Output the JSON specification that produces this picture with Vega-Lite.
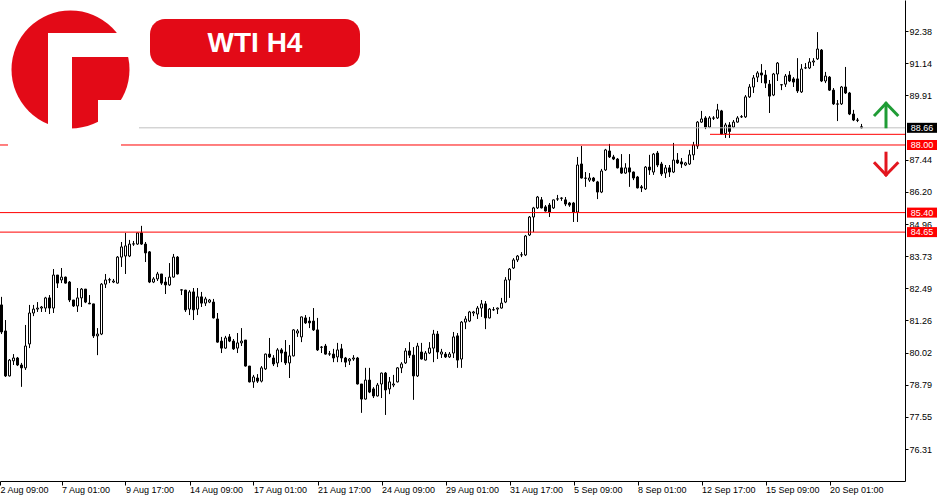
{
"$schema": "https://vega.github.io/schema/vega-lite/v6.json",
"width": 905,
"height": 481,
"autosize": {"type": "none"},
"padding": {"left": 0, "top": 0, "right": 45, "bottom": 19},
"background": "#ffffff",
"config": {"view": {"stroke": null}, "axis": {"grid": false, "labelOverlap": false, "title": null}, "font": "Liberation Sans", "scale": {"continuousPadding": 0}},
"resolve": {"scale": {"color": "independent"}},
"datasets": {
"candles": [
{"i":0,"o":81.85,"h":82.16,"l":80.73,"c":80.81},
{"i":1,"o":80.85,"h":81.27,"l":79.08,"c":79.12},
{"i":2,"o":79.12,"h":79.77,"l":79.10,"c":79.73},
{"i":3,"o":79.70,"h":79.96,"l":79.54,"c":79.81},
{"i":4,"o":79.81,"h":79.85,"l":79.50,"c":79.54},
{"i":5,"o":79.54,"h":79.62,"l":78.70,"c":79.43},
{"i":6,"o":79.43,"h":81.08,"l":79.35,"c":80.27},
{"i":7,"o":80.35,"h":81.85,"l":80.19,"c":81.54},
{"i":8,"o":81.54,"h":81.85,"l":81.42,"c":81.69},
{"i":9,"o":81.69,"h":81.96,"l":81.58,"c":81.73},
{"i":10,"o":81.73,"h":81.81,"l":81.58,"c":81.77},
{"i":11,"o":81.73,"h":82.16,"l":81.58,"c":82.12},
{"i":12,"o":82.12,"h":82.23,"l":81.50,"c":81.73},
{"i":13,"o":81.73,"h":83.23,"l":81.54,"c":83.00},
{"i":14,"o":83.00,"h":83.00,"l":82.50,"c":82.69},
{"i":15,"o":82.81,"h":83.27,"l":82.69,"c":82.92},
{"i":16,"o":82.92,"h":82.94,"l":82.67,"c":82.69},
{"i":17,"o":82.73,"h":82.77,"l":81.96,"c":82.04},
{"i":18,"o":82.04,"h":82.04,"l":81.77,"c":81.81},
{"i":19,"o":81.81,"h":82.50,"l":81.58,"c":82.12},
{"i":20,"o":82.12,"h":82.50,"l":81.77,"c":82.46},
{"i":21,"o":82.46,"h":82.46,"l":81.92,"c":81.96},
{"i":22,"o":81.92,"h":82.23,"l":81.89,"c":81.89},
{"i":23,"o":81.89,"h":81.89,"l":80.58,"c":80.66},
{"i":24,"o":80.66,"h":80.96,"l":79.92,"c":80.73},
{"i":25,"o":80.73,"h":82.69,"l":80.69,"c":82.65},
{"i":26,"o":82.65,"h":83.04,"l":82.50,"c":82.81},
{"i":27,"o":82.81,"h":82.89,"l":82.69,"c":82.82},
{"i":28,"o":82.73,"h":82.85,"l":82.69,"c":82.77},
{"i":29,"o":82.69,"h":83.73,"l":82.67,"c":83.69},
{"i":30,"o":83.69,"h":84.27,"l":83.31,"c":84.08},
{"i":31,"o":83.73,"h":84.62,"l":83.04,"c":84.12},
{"i":32,"o":83.73,"h":84.35,"l":83.69,"c":84.19},
{"i":33,"o":84.19,"h":84.31,"l":84.12,"c":84.20},
{"i":34,"o":84.19,"h":84.62,"l":84.16,"c":84.62},
{"i":35,"o":84.62,"h":84.89,"l":84.16,"c":84.19},
{"i":36,"o":84.19,"h":84.27,"l":83.50,"c":83.85},
{"i":37,"o":83.89,"h":83.92,"l":82.69,"c":82.73},
{"i":38,"o":82.73,"h":82.92,"l":82.69,"c":82.85},
{"i":39,"o":82.85,"h":83.12,"l":82.77,"c":83.04},
{"i":40,"o":83.04,"h":83.04,"l":82.62,"c":82.69},
{"i":41,"o":82.73,"h":82.92,"l":82.27,"c":82.62},
{"i":42,"o":82.62,"h":83.46,"l":82.58,"c":82.92},
{"i":43,"o":82.92,"h":83.81,"l":82.90,"c":83.69},
{"i":44,"o":83.69,"h":83.73,"l":83.02,"c":83.04},
{"i":45,"o":82.43,"h":82.45,"l":82.23,"c":82.42},
{"i":46,"o":82.42,"h":82.43,"l":81.58,"c":81.66},
{"i":47,"o":81.69,"h":82.42,"l":81.46,"c":82.35},
{"i":48,"o":82.35,"h":82.50,"l":81.27,"c":81.66},
{"i":49,"o":81.69,"h":82.50,"l":81.46,"c":82.16},
{"i":50,"o":82.16,"h":82.35,"l":81.77,"c":81.92},
{"i":51,"o":81.92,"h":82.16,"l":81.81,"c":82.08},
{"i":52,"o":81.96,"h":82.08,"l":81.92,"c":82.04},
{"i":53,"o":81.96,"h":82.08,"l":81.33,"c":81.35},
{"i":54,"o":81.31,"h":81.54,"l":80.40,"c":80.42},
{"i":55,"o":80.46,"h":80.62,"l":80.00,"c":80.19},
{"i":56,"o":80.19,"h":80.66,"l":80.16,"c":80.58},
{"i":57,"o":80.62,"h":80.73,"l":80.42,"c":80.46},
{"i":58,"o":80.46,"h":80.54,"l":80.12,"c":80.16},
{"i":59,"o":80.19,"h":80.77,"l":80.00,"c":80.39},
{"i":60,"o":80.39,"h":80.96,"l":80.27,"c":80.46},
{"i":61,"o":80.50,"h":80.50,"l":79.48,"c":79.50},
{"i":62,"o":79.50,"h":79.50,"l":78.87,"c":78.89},
{"i":63,"o":78.89,"h":79.16,"l":78.66,"c":79.08},
{"i":64,"o":79.04,"h":79.19,"l":78.85,"c":78.92},
{"i":65,"o":78.92,"h":79.50,"l":78.87,"c":79.43},
{"i":66,"o":79.39,"h":79.98,"l":79.35,"c":79.96},
{"i":67,"o":79.96,"h":80.58,"l":79.81,"c":79.85},
{"i":68,"o":79.81,"h":79.92,"l":79.50,"c":79.58},
{"i":69,"o":79.62,"h":80.19,"l":79.46,"c":80.12},
{"i":70,"o":80.12,"h":80.19,"l":79.65,"c":80.00},
{"i":71,"o":80.04,"h":80.50,"l":79.54,"c":79.62},
{"i":72,"o":79.62,"h":80.31,"l":79.04,"c":79.89},
{"i":73,"o":79.89,"h":80.92,"l":79.87,"c":80.89},
{"i":74,"o":80.77,"h":80.92,"l":80.62,"c":80.85},
{"i":75,"o":80.62,"h":81.40,"l":80.42,"c":81.39},
{"i":76,"o":81.35,"h":81.46,"l":81.12,"c":81.16},
{"i":77,"o":81.23,"h":81.39,"l":80.96,"c":81.16},
{"i":78,"o":81.23,"h":81.73,"l":80.85,"c":80.89},
{"i":79,"o":80.89,"h":81.35,"l":80.08,"c":80.12},
{"i":80,"o":80.23,"h":80.27,"l":80.00,"c":80.22},
{"i":81,"o":80.27,"h":80.35,"l":79.94,"c":79.96},
{"i":82,"o":79.96,"h":80.08,"l":79.89,"c":79.97},
{"i":83,"o":79.96,"h":80.16,"l":79.65,"c":79.81},
{"i":84,"o":79.85,"h":80.39,"l":79.65,"c":80.12},
{"i":85,"o":80.16,"h":80.35,"l":79.65,"c":79.81},
{"i":86,"o":79.81,"h":79.85,"l":79.46,"c":79.65},
{"i":87,"o":79.70,"h":79.81,"l":79.54,"c":79.77},
{"i":88,"o":79.77,"h":79.92,"l":79.70,"c":79.81},
{"i":89,"o":79.81,"h":79.85,"l":78.79,"c":78.81},
{"i":90,"o":78.81,"h":78.81,"l":77.70,"c":78.23},
{"i":91,"o":78.23,"h":79.43,"l":78.21,"c":78.96},
{"i":92,"o":78.96,"h":79.43,"l":78.46,"c":78.50},
{"i":93,"o":78.62,"h":78.69,"l":78.27,"c":78.35},
{"i":94,"o":78.35,"h":78.85,"l":78.33,"c":78.77},
{"i":95,"o":78.81,"h":79.25,"l":78.27,"c":79.23},
{"i":96,"o":79.23,"h":79.27,"l":77.62,"c":78.58},
{"i":97,"o":78.62,"h":79.08,"l":78.42,"c":78.89},
{"i":98,"o":78.77,"h":79.16,"l":78.69,"c":78.81},
{"i":99,"o":78.89,"h":79.46,"l":78.87,"c":79.43},
{"i":100,"o":79.43,"h":79.65,"l":79.23,"c":79.58},
{"i":101,"o":79.62,"h":80.19,"l":79.58,"c":80.08},
{"i":102,"o":80.08,"h":80.42,"l":79.81,"c":79.92},
{"i":103,"o":79.92,"h":80.23,"l":78.20,"c":79.12},
{"i":104,"o":79.12,"h":80.39,"l":79.08,"c":80.27},
{"i":105,"o":80.04,"h":80.39,"l":79.75,"c":79.77},
{"i":106,"o":79.73,"h":80.08,"l":79.71,"c":80.00},
{"i":107,"o":80.00,"h":80.42,"l":79.96,"c":80.19},
{"i":108,"o":80.19,"h":80.89,"l":79.65,"c":80.73},
{"i":109,"o":80.73,"h":80.85,"l":79.77,"c":80.04},
{"i":110,"o":79.96,"h":80.16,"l":79.81,"c":80.04},
{"i":111,"o":79.96,"h":80.04,"l":79.81,"c":79.85},
{"i":112,"o":79.85,"h":80.04,"l":79.81,"c":79.96},
{"i":113,"o":80.00,"h":80.81,"l":79.81,"c":80.62},
{"i":114,"o":80.66,"h":80.77,"l":79.43,"c":79.73},
{"i":115,"o":79.77,"h":81.23,"l":79.43,"c":81.19},
{"i":116,"o":81.19,"h":81.42,"l":80.92,"c":81.31},
{"i":117,"o":81.23,"h":81.62,"l":81.19,"c":81.58},
{"i":118,"o":81.54,"h":81.62,"l":81.42,"c":81.58},
{"i":119,"o":81.50,"h":81.81,"l":81.31,"c":81.73},
{"i":120,"o":81.73,"h":82.04,"l":81.39,"c":81.89},
{"i":121,"o":81.89,"h":82.00,"l":80.92,"c":81.35},
{"i":122,"o":81.35,"h":81.73,"l":81.33,"c":81.69},
{"i":123,"o":81.66,"h":81.77,"l":81.62,"c":81.67},
{"i":124,"o":81.69,"h":81.75,"l":81.50,"c":81.73},
{"i":125,"o":81.73,"h":82.12,"l":81.71,"c":81.92},
{"i":126,"o":81.96,"h":82.92,"l":81.92,"c":82.81},
{"i":127,"o":82.81,"h":83.27,"l":82.12,"c":83.23},
{"i":128,"o":83.27,"h":83.65,"l":83.23,"c":83.58},
{"i":129,"o":83.58,"h":83.77,"l":83.50,"c":83.73},
{"i":130,"o":83.77,"h":83.88,"l":83.69,"c":83.78},
{"i":131,"o":83.77,"h":84.54,"l":83.73,"c":84.50},
{"i":132,"o":84.54,"h":85.27,"l":84.50,"c":85.23},
{"i":133,"o":85.23,"h":85.62,"l":84.65,"c":85.58},
{"i":134,"o":85.58,"h":86.04,"l":85.54,"c":86.00},
{"i":135,"o":85.89,"h":86.00,"l":85.56,"c":85.58},
{"i":136,"o":85.62,"h":85.69,"l":85.44,"c":85.46},
{"i":137,"o":85.69,"h":85.77,"l":85.23,"c":85.42},
{"i":138,"o":85.58,"h":85.90,"l":85.54,"c":85.89},
{"i":139,"o":85.92,"h":86.08,"l":85.85,"c":85.93},
{"i":140,"o":85.96,"h":85.99,"l":85.85,"c":85.95},
{"i":141,"o":85.89,"h":86.00,"l":85.65,"c":85.73},
{"i":142,"o":85.77,"h":85.81,"l":85.62,"c":85.69},
{"i":143,"o":85.77,"h":85.81,"l":85.04,"c":85.42},
{"i":144,"o":85.42,"h":87.54,"l":85.04,"c":87.23},
{"i":145,"o":87.27,"h":87.96,"l":86.71,"c":86.73},
{"i":146,"o":86.73,"h":86.96,"l":86.39,"c":86.72},
{"i":147,"o":86.65,"h":86.92,"l":86.58,"c":86.73},
{"i":148,"o":86.73,"h":86.77,"l":86.58,"c":86.62},
{"i":149,"o":86.58,"h":86.62,"l":85.92,"c":86.19},
{"i":150,"o":86.19,"h":87.08,"l":86.15,"c":87.00},
{"i":151,"o":87.04,"h":87.85,"l":87.00,"c":87.81},
{"i":152,"o":87.77,"h":88.04,"l":87.50,"c":87.54},
{"i":153,"o":87.54,"h":87.62,"l":87.42,"c":87.46},
{"i":154,"o":87.46,"h":87.50,"l":87.10,"c":87.12},
{"i":155,"o":87.12,"h":87.65,"l":86.89,"c":86.92},
{"i":156,"o":86.92,"h":87.30,"l":86.89,"c":87.12},
{"i":157,"o":87.12,"h":87.65,"l":86.39,"c":86.96},
{"i":158,"o":86.96,"h":86.98,"l":86.65,"c":86.73},
{"i":159,"o":86.77,"h":86.81,"l":86.33,"c":86.35},
{"i":160,"o":86.39,"h":86.46,"l":86.19,"c":86.35},
{"i":161,"o":86.31,"h":87.19,"l":86.27,"c":87.15},
{"i":162,"o":87.15,"h":87.62,"l":86.85,"c":87.04},
{"i":163,"o":86.96,"h":87.69,"l":86.85,"c":87.65},
{"i":164,"o":87.69,"h":87.77,"l":87.15,"c":87.23},
{"i":165,"o":87.27,"h":87.35,"l":86.81,"c":86.89},
{"i":166,"o":86.92,"h":87.23,"l":86.73,"c":87.12},
{"i":167,"o":87.12,"h":87.23,"l":86.77,"c":86.96},
{"i":168,"o":86.96,"h":88.08,"l":86.92,"c":87.42},
{"i":169,"o":87.42,"h":87.69,"l":87.27,"c":87.31},
{"i":170,"o":87.35,"h":87.50,"l":87.12,"c":87.27},
{"i":171,"o":87.23,"h":87.35,"l":87.19,"c":87.31},
{"i":172,"o":87.27,"h":87.81,"l":87.23,"c":87.62},
{"i":173,"o":87.62,"h":88.12,"l":87.42,"c":88.00},
{"i":174,"o":87.96,"h":88.92,"l":87.85,"c":88.88},
{"i":175,"o":88.88,"h":89.31,"l":88.85,"c":89.00},
{"i":176,"o":89.04,"h":89.11,"l":88.61,"c":88.69},
{"i":177,"o":88.69,"h":89.11,"l":88.65,"c":89.04},
{"i":178,"o":89.04,"h":89.11,"l":88.96,"c":89.03},
{"i":179,"o":89.04,"h":89.58,"l":89.00,"c":89.35},
{"i":180,"o":89.31,"h":89.35,"l":88.40,"c":88.42},
{"i":181,"o":88.44,"h":88.85,"l":88.27,"c":88.77},
{"i":182,"o":88.77,"h":88.88,"l":88.27,"c":88.52},
{"i":183,"o":88.69,"h":88.96,"l":88.65,"c":88.88},
{"i":184,"o":88.88,"h":89.11,"l":88.86,"c":89.04},
{"i":185,"o":89.08,"h":89.15,"l":89.04,"c":89.09},
{"i":186,"o":89.08,"h":89.92,"l":89.04,"c":89.85},
{"i":187,"o":89.85,"h":90.34,"l":89.81,"c":90.23},
{"i":188,"o":90.23,"h":90.69,"l":90.00,"c":90.58},
{"i":189,"o":90.61,"h":90.84,"l":90.42,"c":90.77},
{"i":190,"o":90.77,"h":91.11,"l":90.38,"c":90.69},
{"i":191,"o":90.69,"h":90.88,"l":90.19,"c":90.38},
{"i":192,"o":90.34,"h":90.50,"l":89.23,"c":89.88},
{"i":193,"o":89.92,"h":90.77,"l":89.88,"c":90.73},
{"i":194,"o":90.73,"h":91.19,"l":90.46,"c":91.15},
{"i":195,"o":90.31,"h":90.34,"l":90.11,"c":90.32},
{"i":196,"o":90.34,"h":90.73,"l":90.23,"c":90.65},
{"i":197,"o":90.69,"h":90.84,"l":90.42,"c":90.46},
{"i":198,"o":90.54,"h":90.61,"l":90.23,"c":90.42},
{"i":199,"o":90.54,"h":91.34,"l":90.00,"c":90.08},
{"i":200,"o":90.04,"h":91.11,"l":90.00,"c":90.92},
{"i":201,"o":90.96,"h":91.15,"l":90.92,"c":90.97},
{"i":202,"o":90.96,"h":91.34,"l":90.92,"c":91.19},
{"i":203,"o":91.19,"h":91.34,"l":91.04,"c":91.23},
{"i":204,"o":91.31,"h":92.34,"l":91.27,"c":91.69},
{"i":205,"o":91.65,"h":91.69,"l":90.42,"c":90.46},
{"i":206,"o":90.46,"h":90.81,"l":90.38,"c":90.65},
{"i":207,"o":90.61,"h":90.65,"l":90.08,"c":90.11},
{"i":208,"o":90.11,"h":90.19,"l":89.54,"c":89.58},
{"i":209,"o":89.58,"h":89.73,"l":88.92,"c":89.57},
{"i":210,"o":89.58,"h":90.27,"l":89.54,"c":90.23},
{"i":211,"o":90.23,"h":91.00,"l":89.96,"c":90.00},
{"i":212,"o":90.00,"h":90.04,"l":89.15,"c":89.19},
{"i":213,"o":89.19,"h":89.35,"l":88.92,"c":88.96},
{"i":214,"o":88.96,"h":89.04,"l":88.88,"c":88.95},
{"i":215,"o":88.70,"h":88.81,"l":88.64,"c":88.66}
],
"levels": [
{"kind":"bid","p":88.66,"from":34.375,"to":225.875},
{"kind":"level","p":88.00,"from":-0.375,"to":1.625},
{"kind":"level","p":88.00,"from":29.875,"to":225.875},
{"kind":"level","p":88.41,"from":177.125,"to":225.875},
{"kind":"level","p":85.40,"from":-0.375,"to":225.875},
{"kind":"level","p":84.65,"from":-0.375,"to":225.875}
],
"tags": [
{"kind":"bid","p":88.66},
{"kind":"level","p":88.00},
{"kind":"level","p":85.40},
{"kind":"level","p":84.65}
]
},
"layer": [
{
"data": {"name": "candles"},
"mark": {"type":"rule","color":"#000000","strokeWidth":1},
"encoding": {
"x": {"field":"i","type":"quantitative","scale":{"domain":[-0.375,225.875],"nice":false,"zero":false,"padding":0},
"axis": {"values":[-0.375,15,31,47,63,79,95,111,127,143,159,175,191,207],
"labelExpr":"['2 Aug 09:00','7 Aug 01:00','9 Aug 17:00','14 Aug 09:00','17 Aug 01:00','21 Aug 17:00','24 Aug 09:00','29 Aug 01:00','31 Aug 17:00','5 Sep 09:00','8 Sep 01:00','12 Sep 17:00','15 Sep 09:00','20 Sep 01:00'][round((datum.value+1)/16)]",
"orient":"bottom","grid":false,"domain":true,"domainColor":"#000000","domainWidth":1,"ticks":true,"tickColor":"#000000","tickSize":4,"tickWidth":1,
"labelAlign":"left","labelDx":1,"labelBaseline":"top","labelPadding":0,"labelFont":"Liberation Sans","labelFontSize":9,"labelColor":"#000000","labelOverlap":false,"labelFlush":false,"labelBound":false,"title":null}},
"y": {"field":"l","type":"quantitative","scale":{"domain":[75.08,93.575],"nice":false,"zero":false,"padding":0},
"axis": {"values":[76.31,77.55,78.79,80.02,81.26,82.49,83.73,84.96,86.20,87.44,89.91,91.14,92.38],
"format":".2f","orient":"right","grid":false,"domain":true,"domainColor":"#000000","domainWidth":1,"ticks":true,"tickColor":"#000000","tickSize":3,"tickWidth":1,
"labelAlign":"left","labelBaseline":"middle","labelPadding":1,"labelFont":"Liberation Sans","labelFontSize":9,"labelColor":"#000000","labelOverlap":false,"labelFlush":false,"labelBound":false,"title":null}},
"y2": {"field":"h"}
}
},
{
"data": {"name": "candles"},
"mark": {"type":"bar","orient":"vertical","size":2,"stroke":"#000000","strokeWidth":1},
"encoding": {
"x": {"field":"i","type":"quantitative"},
"y": {"field":"o","type":"quantitative"},
"y2": {"field":"c"},
"fill": {"condition": {"test":"datum.c < datum.o","value":"#000000"}, "value":"#ffffff"}
}
},
{
"data": {"values": [{"item":"logo"}]},
"mark": {"type":"point","shape":"circle","filled":true,"size":13924,"opacity":1,"strokeWidth":0,"color":"#e30a17"},
"encoding": {
"x": {"datum": 17.25, "type":"quantitative"},
"y": {"datum": 90.903, "type":"quantitative"}
}
},
{
"data": {"values": [{"item":"logo"}]},
"mark": {"type":"rect","color":"#ffffff"},
"encoding": {
"x": {"datum": 11.625, "type":"quantitative"}, "x2": {"datum": 17.625},
"y": {"datum": 92.306, "type":"quantitative"}, "y2": {"datum": 88.54}
}
},
{
"data": {"values": [{"item":"logo"}]},
"mark": {"type":"rect","color":"#ffffff"},
"encoding": {
"x": {"datum": 11.625, "type":"quantitative"}, "x2": {"datum": 32.5},
"y": {"datum": 92.306, "type":"quantitative"}, "y2": {"datum": 91.383}
}
},
{
"data": {"values": [{"item":"logo"}]},
"mark": {"type":"rect","color":"#ffffff"},
"encoding": {
"x": {"datum": 24.125, "type":"quantitative"}, "x2": {"datum": 32.5},
"y": {"datum": 89.73, "type":"quantitative"}, "y2": {"datum": 88.54}
}
},
{
"data": {"values": [{"item":"title"}]},
"mark": {"type":"rect","color":"#e30a17","cornerRadius":15},
"encoding": {
"x": {"datum": 37.125, "type":"quantitative"}, "x2": {"datum": 89.625},
"y": {"datum": 92.844, "type":"quantitative"}, "y2": {"datum": 91.0}
}
},
{
"data": {"values": [{"label":"WTI H4"}]},
"mark": {"type":"text","color":"#ffffff","font":"Liberation Sans","fontSize":28,"fontWeight":"bold","align":"center","baseline":"alphabetic"},
"encoding": {
"x": {"datum": 63.375, "type":"quantitative"},
"y": {"datum": 91.59, "type":"quantitative"},
"text": {"field":"label"}
}
},
{
"data": {"name": "levels"},
"mark": {"type":"rule","strokeWidth":1},
"encoding": {
"x": {"field":"from","type":"quantitative"},
"x2": {"field":"to"},
"y": {"field":"p","type":"quantitative"},
"color": {"field":"kind","type":"nominal","scale":{"domain":["bid","level"],"range":["#c0c0c0","#ff0000"]},"legend":null}
}
},
{
"data": {"values": [{"item":"up"}]},
"mark": {"type":"rule","color":"#1f9c35","strokeWidth":3},
"encoding": {
"x": {"datum": 221.125, "type":"quantitative"},
"y": {"datum": 89.56, "type":"quantitative"}, "y2": {"datum": 88.642}
}
},
{
"data": {"values": [{"item":"up"}]},
"mark": {"type":"rule","color":"#1f9c35","strokeWidth":3,"strokeCap":"square"},
"encoding": {
"x": {"datum": 218.375, "type":"quantitative"}, "x2": {"datum": 221.125},
"y": {"datum": 89.153, "type":"quantitative"}, "y2": {"datum": 89.603}
}
},
{
"data": {"values": [{"item":"up"}]},
"mark": {"type":"rule","color":"#1f9c35","strokeWidth":3,"strokeCap":"square"},
"encoding": {
"x": {"datum": 221.125, "type":"quantitative"}, "x2": {"datum": 223.95},
"y": {"datum": 89.603, "type":"quantitative"}, "y2": {"datum": 89.153}
}
},
{
"data": {"values": [{"item":"down"}]},
"mark": {"type":"rule","color":"#e3161f","strokeWidth":3},
"encoding": {
"x": {"datum": 221.125, "type":"quantitative"},
"y": {"datum": 87.742, "type":"quantitative"}, "y2": {"datum": 86.88}
}
},
{
"data": {"values": [{"item":"down"}]},
"mark": {"type":"rule","color":"#e3161f","strokeWidth":3,"strokeCap":"square"},
"encoding": {
"x": {"datum": 218.375, "type":"quantitative"}, "x2": {"datum": 221.125},
"y": {"datum": 87.296, "type":"quantitative"}, "y2": {"datum": 86.846}
}
},
{
"data": {"values": [{"item":"down"}]},
"mark": {"type":"rule","color":"#e3161f","strokeWidth":3,"strokeCap":"square"},
"encoding": {
"x": {"datum": 221.125, "type":"quantitative"}, "x2": {"datum": 223.95},
"y": {"datum": 86.846, "type":"quantitative"}, "y2": {"datum": 87.296}
}
},
{
"data": {"name": "tags"},
"mark": {"type":"bar","orient":"horizontal","size":10,"clip":false},
"encoding": {
"x": {"datum": 226.375, "type":"quantitative"},
"x2": {"datum": 233.875},
"y": {"field":"p","type":"quantitative"},
"color": {"field":"kind","type":"nominal","scale":{"domain":["bid","level"],"range":["#000000","#ff0000"]},"legend":null}
}
},
{
"data": {"name": "tags"},
"mark": {"type":"text","color":"#ffffff","font":"Liberation Sans","fontSize":9,"align":"center","baseline":"middle","clip":false},
"encoding": {
"x": {"datum": 230.125, "type":"quantitative"},
"y": {"field":"p","type":"quantitative"},
"text": {"field":"p","type":"quantitative","format":".2f"}
}
}
]
}
